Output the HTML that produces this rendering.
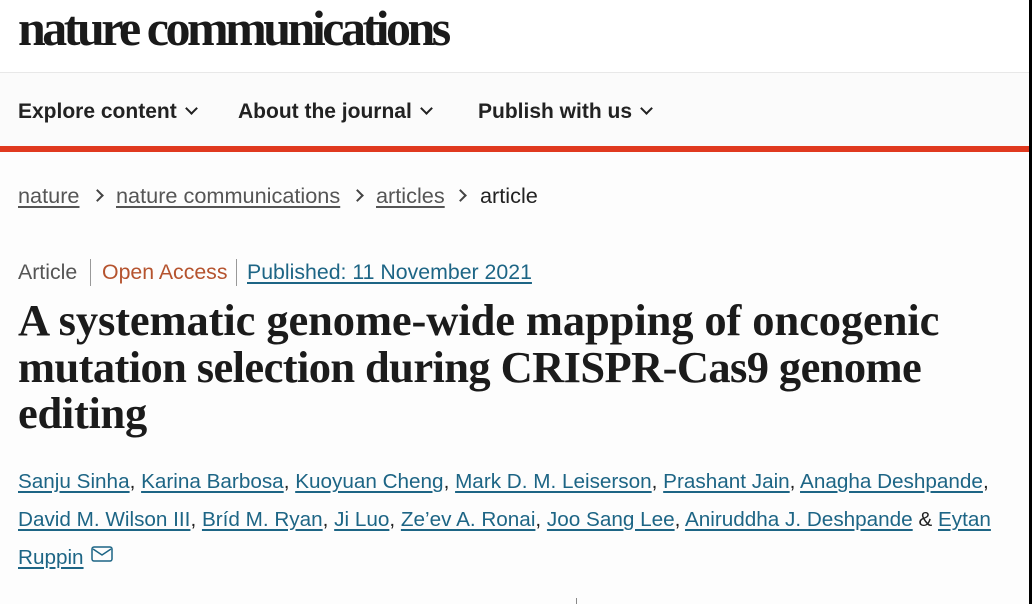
<!DOCTYPE html>
<html>
<head>
<meta charset="utf-8">
<style>
html,body{margin:0;padding:0;}
body{width:1032px;height:604px;overflow:hidden;background:#fdfdfd;position:relative;font-family:"Liberation Sans",sans-serif;}
.abs{position:absolute;white-space:nowrap;}
#top{position:absolute;left:0;top:0;width:1029px;height:72px;background:#fff;border-bottom:1px solid #e8e8e8;}
#nav{position:absolute;left:0;top:73px;width:1029px;height:73px;background:#fbfbfb;}
#red{position:absolute;left:0;top:146px;width:1029px;height:6px;background:#e0391f;}
#edge{position:absolute;left:1029px;top:0;width:3px;height:604px;background:#000;}
.logo{left:18px;top:-1px;font-family:"Liberation Serif",serif;font-weight:bold;font-size:50px;letter-spacing:-3.5px;color:#1a1a1a;}
.nav{top:100px;font-weight:bold;font-size:21px;color:#222;}
.chev{display:inline-block;width:7px;height:7px;border-right:2.4px solid #222;border-bottom:2.4px solid #222;transform:rotate(45deg);position:relative;top:-5px;margin-left:10px;}
.bc{top:183px;font-size:21.7px;color:#555;}
.bc a{color:#555;text-decoration:underline;text-underline-offset:3px;}
.gt{display:inline-block;width:7px;height:7px;border-right:2px solid #444;border-top:2px solid #444;transform:rotate(45deg);position:relative;top:-3px;}
.meta{top:260px;font-size:21.3px;}
.sep{position:absolute;top:259px;width:1px;height:27px;background:#999;}
.title{left:18px;font-family:"Liberation Serif",serif;font-weight:bold;font-size:44.5px;color:#1b1b1b;}
.auth{left:18px;font-size:20.7px;color:#222;}
.auth a{color:#1d6585;text-decoration:underline;text-underline-offset:3px;}
</style>
</head>
<body>
<div id="top"></div>
<div id="nav"></div>
<div id="red"></div>
<div id="edge"></div>

<div class="abs logo">nature communications</div>

<div class="abs nav" style="left:18px;">Explore content<span class="chev"></span></div>
<div class="abs nav" style="left:238px;">About the journal<span class="chev"></span></div>
<div class="abs nav" style="left:478px;">Publish with us<span class="chev"></span></div>

<div class="abs bc" style="left:18px;"><a>nature</a></div>
<div class="abs bc" style="left:93px;"><span class="gt"></span></div>
<div class="abs bc" style="left:116px;"><a>nature communications</a></div>
<div class="abs bc" style="left:353px;"><span class="gt"></span></div>
<div class="abs bc" style="left:376px;"><a>articles</a></div>
<div class="abs bc" style="left:456px;"><span class="gt"></span></div>
<div class="abs bc" style="left:480px;color:#222;">article</div>

<div class="abs meta" style="left:18px;color:#555;">Article</div>
<div class="sep" style="left:90px;"></div>
<div class="abs meta" style="left:102px;color:#b5532e;">Open Access</div>
<div class="sep" style="left:236px;"></div>
<div class="abs meta" style="left:247px;color:#1d6585;text-decoration:underline;text-underline-offset:3px;">Published: 11 November 2021</div>

<div class="abs title" style="top:294px;letter-spacing:-0.1px;">A systematic genome-wide mapping of oncogenic</div>
<div class="abs title" style="top:341px;letter-spacing:-0.6px;">mutation selection during CRISPR-Cas9 genome</div>
<div class="abs title" style="top:387px;letter-spacing:-0.3px;">editing</div>

<div class="abs auth" style="top:470px;"><a>Sanju Sinha</a>, <a>Karina Barbosa</a>, <a>Kuoyuan Cheng</a>, <a>Mark D. M. Leiserson</a>, <a>Prashant Jain</a>, <a>Anagha Deshpande</a>,</div>
<div class="abs auth" style="top:508px;"><a>David M. Wilson III</a>, <a>Bríd M. Ryan</a>, <a>Ji Luo</a>, <a>Ze’ev A. Ronai</a>, <a>Joo Sang Lee</a>, <a>Aniruddha J. Deshpande</a> &amp; <a>Eytan</a></div>
<div class="abs auth" style="top:546px;"><a>Ruppin</a></div>
<svg class="abs" style="left:91px;top:546px;" width="22" height="16" viewBox="0 0 22 16"><rect x="1" y="1" width="20" height="14" rx="2" fill="none" stroke="#1d6585" stroke-width="1.5"/><path d="M2 3 L11 9 L20 3" fill="none" stroke="#1d6585" stroke-width="1.5"/></svg>

<div class="abs" style="left:576px;top:598px;width:1px;height:6px;background:#888;"></div>
</body>
</html>
